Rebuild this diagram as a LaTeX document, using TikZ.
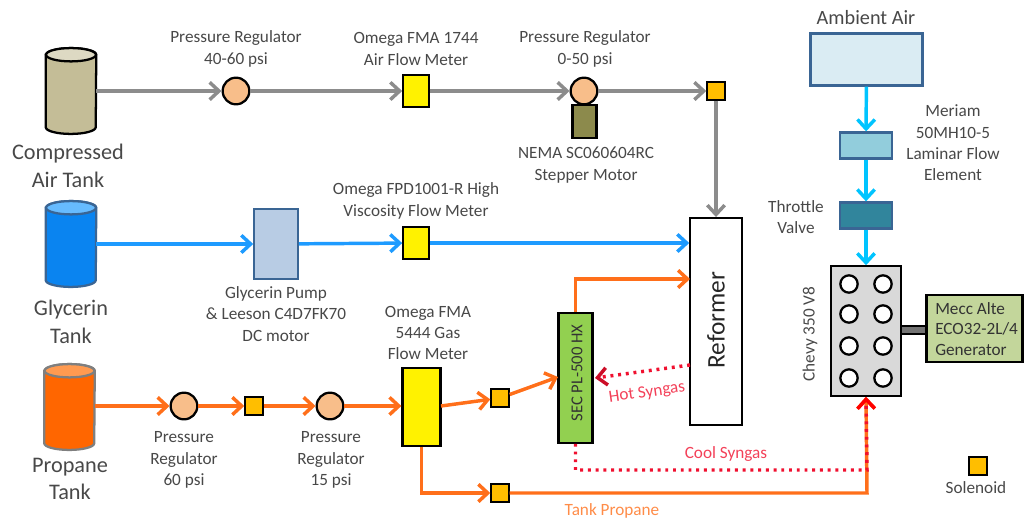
\documentclass[tikz,border=0pt]{standalone}
\usepackage{fontspec}
\setmainfont{Carlito}
\usetikzlibrary{arrows.meta}
\definecolor{txtgray}{HTML}{484848}
\definecolor{airline}{HTML}{8C8C8C}
\definecolor{glyline}{HTML}{1E9BFF}
\definecolor{proline}{HTML}{FF6F1A}
\definecolor{ambline}{HTML}{00C4FF}
\definecolor{boxblue}{HTML}{3A6594}
\definecolor{synred}{HTML}{F0102F}
\definecolor{regfill}{HTML}{F8BE8A}
\definecolor{solfill}{HTML}{FFBE00}
\definecolor{airbody}{HTML}{C4BD97}
\definecolor{airtop}{HTML}{DDD9C3}
\definecolor{glybody}{HTML}{0A84F0}
\definecolor{glytop}{HTML}{66BBFF}
\definecolor{proedge}{HTML}{7F7F7F}
\definecolor{probody}{HTML}{FF6600}
\definecolor{protop}{HTML}{FF9A50}
\definecolor{motorfill}{HTML}{8C8A4C}
\definecolor{pumpfill}{HTML}{B8CCE4}
\definecolor{hxfill}{HTML}{92D050}
\definecolor{ambfill}{HTML}{DAECF3}
\definecolor{lamfill}{HTML}{92CDDC}
\definecolor{thrfill}{HTML}{31859C}
\definecolor{engfill}{HTML}{D9D9D9}
\definecolor{genfill}{HTML}{C3D69B}
\tikzset{
  lbl/.style={text=txtgray,align=center,inner sep=0pt,font=\fontsize{12.9}{16}\selectfont},
  biglbl/.style={text=txtgray,align=center,inner sep=0pt,font=\fontsize{16.7}{20.5}\selectfont},
  tank/.style={rectangle,minimum width=37.5pt,minimum height=54pt,inner sep=0pt},
  reg/.style={circle,draw=black,line width=1.7pt,fill=regfill,minimum size=20pt,inner sep=0pt},
  meter/.style={rectangle,draw=black,line width=1.7pt,fill=yellow,minimum width=19pt,minimum height=24pt,inner sep=0pt},
  sol/.style={rectangle,draw=black,line width=1.6pt,fill=solfill,minimum size=13pt,inner sep=0pt},
  bluebox/.style={rectangle,draw=boxblue,line width=1.7pt,inner sep=0pt},
  cyl/.style={circle,draw=black,line width=1.7pt,fill=white,minimum size=13pt,inner sep=0pt},
  airpipe/.style={->,draw=airline,line width=2.6pt},
  glypipe/.style={->,draw=glyline,line width=2.6pt},
  propipe/.style={->,draw=proline,line width=2.6pt},
  ambpipe/.style={->,draw=ambline,line width=2.6pt},
  synpipe/.style={draw=synred,line width=2.6pt,dash pattern=on 2.2pt off 3.6pt},
}
% body and lid of a tank round a named node: name, edge, body, lid
\newcommand{\tankbody}[4]{
  \draw [draw=#2,fill=#3,line width=1.7pt] (#1.north west) -- (#1.south west)
    arc [start angle=180,end angle=360,x radius=18.75pt,y radius=5pt] -- (#1.north east)
    arc [start angle=0,end angle=180,x radius=18.75pt,y radius=5pt] -- cycle;
  \draw [draw=#2,fill=#4,line width=1.7pt] (#1.north) ellipse [x radius=18.75pt,y radius=5pt];
}
\begin{document}
\begin{tikzpicture}[x=0.75pt,y=-0.75pt,>={Straight Barb[length=7pt,width=13pt]}]
  \useasboundingbox (0,0) rectangle (1024,521);
  % tanks
  \node [tank] (airtank) at (71,91) {};
  \node [tank] (glytank) at (71,244) {};
  \node [tank] (protank) at (69.5,407) {};
  \tankbody{airtank}{black}{airbody}{airtop}
  \tankbody{glytank}{boxblue}{glybody}{glytop}
  \tankbody{protank}{proedge}{probody}{protop}
  \node [biglbl] (airtxt) at (68,166) {Compressed\\Air Tank};
  \node [biglbl] (glytxt) at (71,322) {Glycerin\\Tank};
  \node [biglbl] (protxt) at (70,479) {Propane\\Tank};
  % air line
  \node [rectangle,draw=black,line width=1.7pt,fill=motorfill,minimum width=18pt,minimum height=24.5pt,inner sep=0pt] (motor) at (584.5,121.5) {};
  \node [reg] (regair) at (236,91) {};
  \node [meter] (mair) at (416,91) {};
  \node [reg] (regair2) at (584,91) {};
  \node [sol] (solair) at (716,91) {};
  \node [rectangle,draw=black,line width=1.7pt,fill=white,minimum width=38.5pt,minimum height=155pt,inner sep=0pt] (reformer) at (716,321.5) {};
  \node [rotate=90,text=black!85,inner sep=0pt,font=\fontsize{19}{20}\selectfont] (reftxt) at (716,320) {Reformer};
  \draw [airpipe] (airtank.east |- regair) -- (regair);
  \draw [airpipe] (regair) -- (mair);
  \draw [airpipe] (mair) -- (regair2);
  \draw [airpipe] (regair2) -- (solair);
  \draw [airpipe] (solair) -- (reformer.north);
  \node [lbl] (regairtxt) at (236,49) {Pressure Regulator\\40-60 psi};
  \node [lbl] (mairtxt) at (416,49) {Omega FMA 1744\\Air Flow Meter};
  \node [lbl] (regair2txt) at (585,49) {Pressure Regulator\\0-50 psi};
  \node [lbl] (motortxt) at (586,165) {NEMA SC060604RC\\Stepper Motor};
  % glycerin line
  \node [bluebox,fill=pumpfill,minimum width=32.5pt,minimum height=52pt] (pump) at (276,244) {};
  \node [meter] (mgly) at (416,243) {};
  \draw [glypipe] (glytank.east |- pump) -- (pump);
  \draw [glypipe] (pump) -- (mgly);
  \draw [glypipe] (mgly) -- (mgly -| reformer.west);
  \node [lbl] (mglytxt) at (416,201) {Omega FPD1001-R High\\Viscosity Flow Meter};
  \node [lbl] (pumptxt) at (276,314) {Glycerin Pump\\\& Leeson C4D7FK70\\DC motor};
  % propane line
  \node [reg] (regpro) at (184,406) {};
  \node [sol] (solpro) at (254,406) {};
  \node [reg] (regpro2) at (330,406) {};
  \node [meter,minimum width=28.5pt,minimum height=58pt] (mpro) at (421.5,407) {};
  \node [sol] (solhx) at (500,398) {};
  \node [sol] (soltank) at (500,493) {};
  \node [rectangle,draw=black,line width=1.7pt,fill=hxfill,minimum width=25.5pt,minimum height=97pt,inner sep=0pt] (hx) at (575.5,378) {};
  \node [rotate=90,text=black!80,inner sep=0pt,font=\fontsize{12.5}{12}\selectfont] (hxtxt) at (577,373) {SEC PL-500 HX};
  \coordinate (mproout) at (441,406);
  \coordinate (hxin) at (558,377);
  \coordinate (refin) at (690,279);
  \coordinate (hotout) at (690,365);
  \coordinate (hotin) at (595,378);
  \draw [propipe] (regpro -| protank.east) -- (regpro);
  \draw [propipe] (regpro) -- (solpro);
  \draw [propipe] (solpro) -- (regpro2);
  \draw [propipe] (regpro2) -- (regpro2 -| mpro.west);
  \draw [propipe] (mproout) -- (solhx);
  \draw [propipe] (solhx) -- (hxin);
  \draw [propipe] (hx.north) |- (refin);
  \draw [propipe] (mpro.south) |- (soltank);
  \node [lbl] (regprotxt) at (184,460) {Pressure\\Regulator\\60 psi};
  \node [lbl] (regpro2txt) at (331,460) {Pressure\\Regulator\\15 psi};
  \node [lbl] (mprotxt) at (428,333) {Omega FMA\\5444 Gas\\Flow Meter};
  % ambient air and engine
  \node [biglbl,font=\fontsize{15.2}{16}\selectfont] (ambtxt) at (866,18) {Ambient Air};
  \node [bluebox,fill=ambfill,minimum width=84pt,minimum height=39pt] (ambient) at (866.5,59.5) {};
  \node [bluebox,fill=lamfill,minimum width=39.5pt,minimum height=19.5pt] (laminar) at (866,145.5) {};
  \node [bluebox,fill=thrfill,minimum width=39.5pt,minimum height=19.5pt] (throttle) at (866,215.5) {};
  \node [rectangle,draw=black,line width=1.7pt,fill=engfill,minimum width=52pt,minimum height=97pt,inner sep=0pt] (engine) at (866,331) {};
  \foreach \cx/\cn in {849/a,883/b}
    \foreach \cy/\rn in {284/1,314/2,346/3,378/4}
      \node [cyl] (cyl\cn\rn) at (\cx,\cy) {};
  \node [rectangle,draw=black,line width=1.7pt,fill=genfill,inner sep=0pt,
    minimum width=72pt,minimum height=50pt] (gen) at (974.5,328.5) {};
  \node [text=black!80,align=left,inner sep=0pt,anchor=west,font=\fontsize{12.9}{15.5}\selectfont] (gentxt) at (935,329) {Mecc Alte\\ECO32-2L/4\\Generator};
  \draw [draw=black,line width=7.5pt] (engine.east |- 0,330) -- (gen.west |- 0,330);
  \draw [draw=black!55,line width=4pt] (engine.east |- 0,330) -- (gen.west |- 0,330);
  \draw [ambpipe] (ambient) -- (laminar);
  \draw [ambpipe] (laminar) -- (throttle);
  \draw [ambpipe] (throttle) -- (engine);
  \node [lbl] (lamtxt) at (953,143) {Meriam\\50MH10-5\\Laminar Flow\\Element};
  \node [lbl] (thrtxt) at (796,217) {Throttle\\Valve};
  \node [lbl,rotate=90] (engtxt) at (810,334) {Chevy 350 V8};
  % syngas and tank propane to engine
  \coordinate (tankturn) at (867,493);
  \coordinate (coolturn) at (867,470);
  \draw [propipe] (soltank) -- (tankturn) -- (engine.south);
  \draw [synpipe,-{Straight Barb[length=7pt,width=13pt,color=synred!85!black]}] (hotout) -- (hotin);
  \draw [synpipe,-{Straight Barb[length=7pt,width=13pt,color=red]}] (hx.south) |- (coolturn) -- (engine.south);
  \node [lbl,text=synred!80,rotate=8] (hottxt) at (647,393) {Hot Syngas};
  \node [lbl,text=synred!80] (cooltxt) at (726,454) {Cool Syngas};
  \node [lbl,text=proline!80] (tanktxt) at (612,511) {Tank Propane};
  \node [sol] (sollegend) at (978,466) {};
  \node [lbl] (soltxt) at (976,488) {Solenoid};
\end{tikzpicture}
\end{document}
